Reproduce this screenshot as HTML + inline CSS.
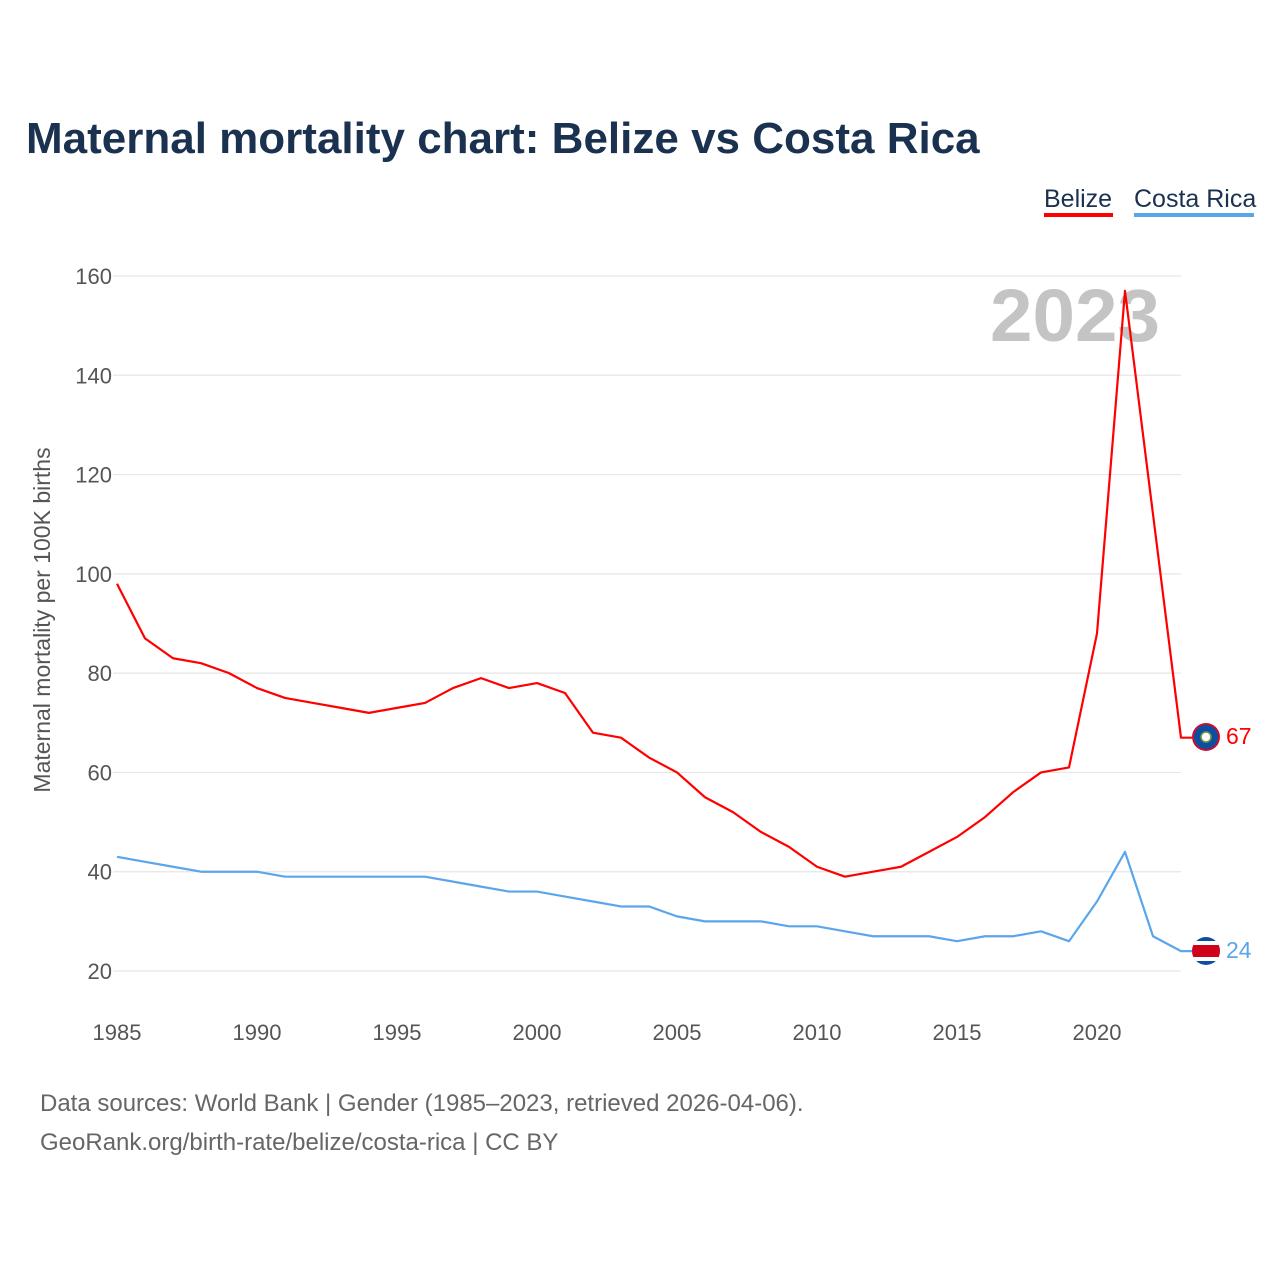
<!DOCTYPE html>
<html><head><meta charset="utf-8">
<style>
body{margin:0;background:#fff;}
svg text{font-family:"Liberation Sans",sans-serif;}
</style></head>
<body>
<svg id="chart" width="1280" height="1280" viewBox="0 0 1280 1280" xmlns="http://www.w3.org/2000/svg">
<rect width="1280" height="1280" fill="#fff"/>
<text x="26" y="153" font-size="44" font-weight="bold" fill="#1a3150">Maternal mortality chart: Belize vs Costa Rica</text>
<g>
<text x="1044" y="207" font-size="25" fill="#1a3150">Belize</text>
<rect x="1044" y="213" width="69" height="4" fill="#ff0000"/>
<text x="1134" y="207" font-size="25" fill="#1a3150">Costa Rica</text>
<rect x="1134" y="213" width="120" height="4" fill="#5ba6ea"/>
</g>
<text x="990" y="341" font-size="74" font-weight="bold" fill="#c4c4c4" textLength="170" lengthAdjust="spacingAndGlyphs">2023</text>
<g id="grid"></g>
<g id="yticks"></g>
<g id="xticks"></g>
<text transform="translate(50,620) rotate(-90)" font-size="23" fill="#555" text-anchor="middle">Maternal mortality per 100K births</text>
<g id="series"></g>
<g>
<circle cx="1206" cy="737" r="14" fill="#c8102e"/>
<circle cx="1206" cy="737" r="12" fill="#0b4ea2"/>
<circle cx="1206" cy="737" r="5" fill="#fff" stroke="#6a9a3a" stroke-width="1.5"/>
</g>
<g>
<clipPath id="cc"><circle cx="1206" cy="951" r="14"/></clipPath>
<g clip-path="url(#cc)">
<rect x="1190" y="937" width="32" height="28" fill="#0b4ea2"/>
<rect x="1190" y="941" width="32" height="20" fill="#fff"/>
<rect x="1190" y="945" width="32" height="12" fill="#d0021b"/>
</g>
</g>
<text x="1226" y="744" font-size="23" fill="#ff0000">67</text>
<text x="1226" y="958" font-size="23" fill="#5ba6ea">24</text>
<text x="40" y="1111" font-size="24" fill="#666">Data sources: World Bank | Gender (1985–2023, retrieved 2026-04-06).</text>
<text x="40" y="1150" font-size="24" fill="#666">GeoRank.org/birth-rate/belize/costa-rica | CC BY</text>
</svg>
<script>
const years=[1985,1986,1987,1988,1989,1990,1991,1992,1993,1994,1995,1996,1997,1998,1999,2000,2001,2002,2003,2004,2005,2006,2007,2008,2009,2010,2011,2012,2013,2014,2015,2016,2017,2018,2019,2020,2021,2022,2023];
const belize=[98,87,83,82,80,77,75,74,73,72,73,74,77,79,77,78,76,68,67,63,60,55,52,48,45,41,39,40,41,44,47,51,56,60,61,88,157,112,67];
const costaRica=[43,42,41,40,40,40,39,39,39,39,39,39,38,37,36,36,35,34,33,33,31,30,30,30,29,29,28,27,27,27,26,27,27,28,26,34,44,27,24];
const yTicks=[20,40,60,80,100,120,140,160];
const xTicks=[1985,1990,1995,2000,2005,2010,2015,2020];
const X=y=>117+(y-1985)*28;
const Y=v=>971-(v-20)*(695/140);
const NS='http://www.w3.org/2000/svg';
function mk(tag,attrs,parent,txt){const e=document.createElementNS(NS,tag);for(const k in attrs)e.setAttribute(k,attrs[k]);if(txt!==undefined)e.textContent=txt;document.getElementById(parent).appendChild(e);return e;}
yTicks.forEach(v=>{
 const l=mk('line',{x1:113,x2:1181,y1:Y(v),y2:Y(v),stroke:'#e6e6e6','stroke-width':1.2},'grid');
 
 
 const t=mk('text',{x:112,y:Y(v)+8,'font-size':22,fill:'#555','text-anchor':'end'},'yticks',v);
 
 
});
xTicks.forEach(v=>{
 const t=mk('text',{x:X(v),y:1040,'font-size':22,fill:'#555','text-anchor':'middle'},'xticks',v);
 
 
});
function line(vals,color,name){
 let d=vals.map((v,i)=>(i?'L':'M')+X(years[i])+','+Y(v)).join(' ');
 d+=' L1192,'+Y(vals[vals.length-1]);
 const p=mk('path',{d:d,fill:'none',stroke:color,'stroke-width':2.2,'stroke-linejoin':'round'},'series');
 
 
}
line(costaRica,'#5ba6ea','line-costa-rica');
line(belize,'#ff0000','line-belize');
</script>
</body></html>
